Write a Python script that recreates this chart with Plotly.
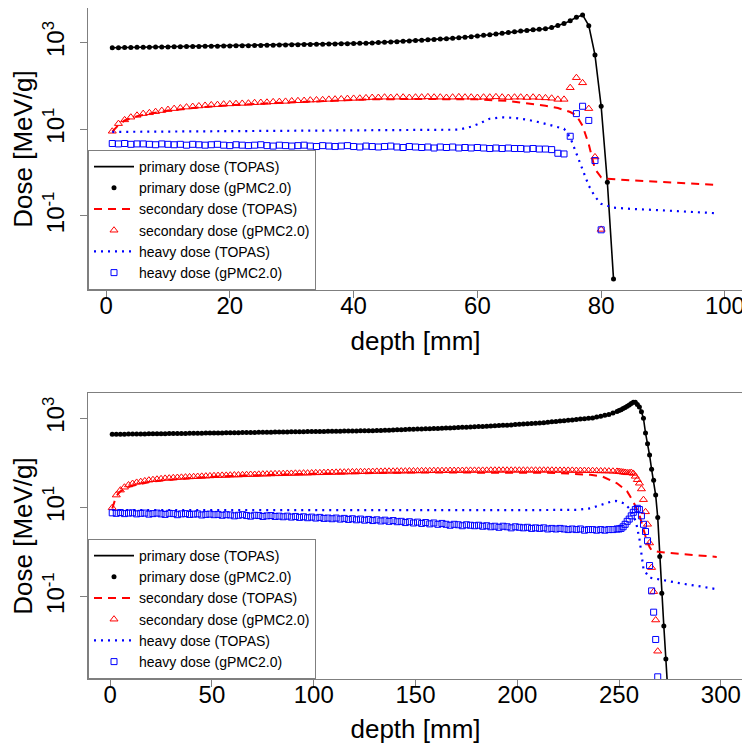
import plotly.graph_objects as go

# ---------------- top panel (0-100 mm) ----------------
top_primary_depth = list(range(1, 83))
top_primary = [
    760, 764, 768, 772, 776, 780, 784, 788, 792, 796,
    800, 804, 808, 812, 816, 820, 824, 828, 832, 836,
    840, 845, 850, 855, 860, 865, 870, 875, 880, 886,
    892, 898, 904, 910, 917, 924, 931, 938, 946, 954,
    962, 972, 985, 1000, 1016, 1033, 1051, 1070, 1090, 1111,
    1133, 1156, 1180, 1205, 1232, 1262, 1295, 1330, 1368, 1410,
    1470, 1520, 1580, 1650, 1720, 1790, 1850, 1910, 1970, 2020,
    2080, 2220, 2470, 2740, 3200, 3850, 4350, 2460, 520, 34,
    0.6, 0.0035,
]

top_secondary_topas_depth = [1, 2, 3, 5, 7, 10, 15, 20, 30, 43, 50, 55, 60, 65, 68, 71, 73,
                             75, 76, 77, 78, 79, 80, 81, 85, 90, 95, 99]
top_secondary_topas = [8.8, 12.5, 16, 20, 23, 27, 32, 36, 42, 49, 50, 50, 49, 45, 40.5, 35, 31,
                       25, 21, 12, 4.5, 1.2, 0.78, 0.72, 0.66, 0.6, 0.56, 0.52]

top_secondary_gpmc_depth = list(range(1, 81))
top_secondary_gpmc = [
    9.0, 13.5, 16.5, 19, 21, 23, 24, 25.5, 27, 28.5,
    30, 31, 32.5, 33.5, 34.5, 35.5, 36.5, 37, 38, 38.5,
    39, 39.5, 40, 41, 41.5, 42, 43, 43.5, 44, 45,
    45.5, 46, 47, 47.5, 48, 49, 49.5, 50, 51, 51.5,
    52, 53, 54, 54, 55, 54, 55, 55, 54, 55,
    55, 56, 55, 55, 54, 55, 56, 55, 55, 54,
    55, 55, 56, 55, 54, 55, 55, 54, 55, 54,
    53, 52, 49, 49, 91, 155, 118, 30, 2.3, 0.049,
]

top_heavy_topas_depth = [1, 10, 20, 30, 43, 50, 57, 59, 60, 62, 64, 66, 68, 70, 72, 74,
                         75, 76, 77, 78, 79, 80, 82, 85, 89, 95, 99]
top_heavy_topas = [8.7, 8.9, 9.1, 9.3, 9.5, 9.7, 9.8, 11.5, 13, 17.5, 18.9, 18.3, 16.7, 14.5, 12.3, 10.3,
                   6.5, 2.8, 1.1, 0.5, 0.28, 0.19, 0.156, 0.145, 0.137, 0.125, 0.115]

top_heavy_gpmc_depth = list(range(1, 81))
top_heavy_gpmc = [
    4.7, 4.6, 4.7, 4.5, 4.6, 4.6, 4.5, 4.4, 4.6, 4.5,
    4.4, 4.5, 4.3, 4.5, 4.4, 4.3, 4.4, 4.5, 4.3, 4.2,
    4.4, 4.3, 4.2, 4.3, 4.4, 4.2, 4.1, 4.3, 4.2, 4.1,
    4.2, 4.3, 4.1, 4.0, 4.2, 4.1, 4.0, 4.1, 4.2, 4.0,
    3.9, 4.1, 4.0, 3.9, 4.0, 4.1, 3.9, 3.8, 4.0, 3.9,
    3.8, 3.9, 3.7, 3.9, 3.8, 3.9, 3.7, 3.8, 3.7, 3.8,
    3.7, 3.6, 3.7, 3.6, 3.7, 3.6, 3.6, 3.5, 3.6, 3.5,
    3.5, 3.4, 2.8, 2.7, 6.9, 23, 34, 16, 1.9, 0.048,
]

# ---------------- bottom panel (0-300 mm) ----------------
bot_flat_depth = list(range(1, 250, 2))
bot_primary_depth = bot_flat_depth + list(range(250, 275))
bot_primary = [
    438, 439, 440, 441, 442, 444, 445, 446, 447, 448,
    450, 451, 452, 453, 454, 456, 457, 458, 459, 461,
    462, 463, 464, 466, 467, 468, 470, 471, 472, 474,
    476, 477, 479, 480, 482, 483, 485, 486, 488, 489,
    491, 492, 494, 495, 497, 498, 500, 501, 503, 504,
    506, 508, 509, 511, 512, 514, 515, 517, 518, 520,
    521, 523, 524, 526, 527, 530, 534, 539, 543, 548,
    552, 557, 561, 566, 570, 574, 578, 582, 586, 590,
    594, 597, 603, 609, 615, 621, 627, 633, 639, 645,
    651, 658, 666, 673, 681, 688, 696, 703, 712, 723,
    734, 745, 756, 767, 778, 789, 800, 817, 834, 851,
    868, 885, 903, 922, 945, 962, 980, 998, 1020, 1065,
    1115, 1165, 1220, 1320, 1430,
    1490, 1550, 1650, 1750, 1870, 2000, 2150, 2300, 2280, 2050,
    1800, 1400, 1000, 470, 270, 150, 72, 41, 19, 6,
    0.8, 0.12, 0.022, 0.004, 0.0007,
]

bot_secondary_topas_depth = [1, 2, 3, 5, 10, 20, 40, 60, 100, 150, 200, 215, 225, 236, 242, 249,
                             254, 257, 260, 262, 263.5, 265, 266, 270, 280, 290, 298]
bot_secondary_topas = [9.5, 14, 18, 23, 30, 38, 46, 51, 57, 61, 62, 60, 58, 54, 49, 35,
                       23, 13.5, 6.8, 3.4, 1.9, 1.3, 1.1, 1.0, 0.92, 0.84, 0.78]

bot_secondary_gpmc_depth = bot_flat_depth + list(range(250, 270))
bot_secondary_gpmc = [
    9.9, 19, 24.5, 28.5, 32, 34.5, 36.5, 38, 39.5, 41,
    42, 43, 44, 45, 45.5, 46.5, 47, 47.5, 48, 48.5,
    49, 49.5, 50, 50.5, 51, 51.5, 52, 52.5, 52.5, 53,
    53.5, 53.5, 54, 54.5, 55, 55, 55.5, 56, 56, 56.5,
    57, 57, 57.5, 58, 58, 58.5, 58.5, 59, 59, 59.5,
    60, 60, 60.5, 61, 61, 61.5, 62, 62, 62.5, 63,
    63, 63.5, 63.5, 64, 64, 64.5, 64.5, 65, 65, 65,
    65.5, 65.5, 65.5, 66, 66, 66, 66.5, 66.5, 66.5, 67,
    67, 67, 67, 67.5, 67.5, 67.5, 67.5, 68, 68, 68,
    68, 68, 68, 68.5, 68.5, 68.5, 68.5, 68.5, 68.5, 68.5,
    68.5, 68.5, 68.5, 68.5, 68.5, 68.5, 68.5, 68.5, 68.5, 68,
    68, 68, 68, 68, 67.5, 67.5, 67.5, 67, 67, 66.5,
    66, 66, 65.5, 65, 64.5,
    64, 63, 62, 61, 60, 60, 61, 58, 50, 42,
    35, 26, 15, 8, 4.2, 1.6, 0.45, 0.13, 0.03, 0.006,
]

bot_heavy_topas_depth = [1, 50, 100, 150, 200, 230, 236, 241, 246, 248.5, 252.5, 255.8, 258.3,
                         260, 261, 262, 264.7, 270, 280, 290, 297]
bot_heavy_topas = [8.8, 8.7, 8.6, 8.6, 8.7, 8.9, 9.6, 11.4, 13.5, 14, 12.4, 8.8, 4.8,
                   2.0, 0.9, 0.42, 0.27, 0.24, 0.2, 0.17, 0.15]

bot_heavy_gpmc_depth = bot_flat_depth + list(range(250, 270))
bot_heavy_gpmc = [
    7.6, 7.4, 7.7, 7.3, 7.5, 7.6, 7.2, 7.4, 7.5, 7.1,
    7.3, 7.5, 7.2, 7.0, 7.4, 7.3, 6.9, 7.2, 7.3, 7.0,
    7.1, 7.2, 6.8, 7.0, 7.1, 6.9, 7.0, 6.7, 6.9, 6.8,
    6.5, 6.7, 6.9, 6.6, 6.4, 6.7, 6.6, 6.3, 6.5, 6.6,
    6.3, 6.4, 6.2, 6.4, 6.1, 6.3, 6.0, 6.2, 5.9, 6.1,
    5.8, 6.0, 5.7, 5.8, 5.6, 5.8, 5.5, 5.7, 5.4, 5.6,
    5.3, 5.5, 5.2, 5.4, 5.1, 5.3, 5.0, 5.2, 4.9, 5.1,
    4.8, 4.9, 4.6, 4.8, 4.5, 4.7, 4.4, 4.6, 4.3, 4.5,
    4.2, 4.4, 4.2, 4.0, 4.2, 4.1, 3.9, 4.1, 4.0, 3.9,
    4.0, 3.8, 3.9, 3.7, 3.8, 3.6, 3.8, 3.7, 3.5, 3.7,
    3.6, 3.5, 3.6, 3.4, 3.5, 3.4, 3.5, 3.3, 3.4, 3.3,
    3.4, 3.3, 3.2, 3.3, 3.2, 3.3, 3.1, 3.2, 3.2, 3.1,
    3.2, 3.1, 3.2, 3.2, 3.3,
    3.3, 3.4, 3.7, 4.2, 4.9, 5.5, 6.5, 7.8, 9.0, 9.6,
    9.0, 6.5, 4.2, 2.9, 1.8, 0.5, 0.135, 0.045, 0.011, 0.0016,
]

names = ["primary dose (TOPAS)", "primary dose (gPMC2.0)",
         "secondary dose (TOPAS)", "secondary dose (gPMC2.0)",
         "heavy dose (TOPAS)", "heavy dose (gPMC2.0)"]

FONT = "Liberation Sans, Arial, sans-serif"
GREY = "#7f7f7f"

panels = [
    dict(xa="x", ya="y", leg="legend",
         series=[(top_primary_depth, top_primary), (top_primary_depth, top_primary),
                 (top_secondary_topas_depth, top_secondary_topas),
                 (top_secondary_gpmc_depth, top_secondary_gpmc),
                 (top_heavy_topas_depth, top_heavy_topas),
                 (top_heavy_gpmc_depth, top_heavy_gpmc)]),
    dict(xa="x2", ya="y2", leg="legend2",
         series=[(bot_primary_depth, bot_primary), (bot_primary_depth, bot_primary),
                 (bot_secondary_topas_depth, bot_secondary_topas),
                 (bot_secondary_gpmc_depth, bot_secondary_gpmc),
                 (bot_heavy_topas_depth, bot_heavy_topas),
                 (bot_heavy_gpmc_depth, bot_heavy_gpmc)]),
]

styles = [
    dict(mode="lines", line=dict(color="black", width=1.6)),
    dict(mode="markers", marker=dict(symbol="circle", color="black", size=5)),
    dict(mode="lines", line=dict(color="#ff0000", width=2, dash="8px,6px")),
    dict(mode="markers", marker=dict(symbol="triangle-up-open", color="#ff0000", size=7,
                                     line=dict(width=1, color="#ff0000"))),
    dict(mode="lines", line=dict(color="#0000ff", width=2.2, dash="2px,5px")),
    dict(mode="markers", marker=dict(symbol="square-open", color="#0000ff", size=6,
                                     line=dict(width=1, color="#0000ff"))),
]

fig = go.Figure()
for p in panels:
    for name, (xs, ys), st in zip(names, p["series"], styles):
        fig.add_trace(go.Scatter(x=xs, y=ys, name=name, xaxis=p["xa"], yaxis=p["ya"],
                                 legend=p["leg"], **st))

axis_common = dict(showline=True, linecolor=GREY, linewidth=1, mirror=True,
                   ticks="outside", ticklen=7, tickcolor=GREY, showgrid=False, zeroline=False,
                   tickfont=dict(family=FONT, size=24, color="black"))
xtick = dict(ticklabelstandoff=-13)
ytick = dict(type="log", tickvals=[0.1, 10, 1000],
             ticktext=["10<sup>-1</sup>", "10<sup>1</sup>", "10<sup>3</sup>"], tickangle=-90,
             ticklabelstandoff=6)
xtitle = dict(text="depth [mm]", font=dict(family=FONT, size=26, color="black"), standoff=13)
ytitle = dict(text="Dose [MeV/g]", font=dict(family=FONT, size=26, color="black"), standoff=0)

# the page body keeps an 8px margin, so the figure is 742x739 drawn at (8, 8)
top_dom = [0.5797, 1]
bot_dom = [0, 0.4262]
legend_common = dict(x=0, xanchor="left", yanchor="bottom", bgcolor="white",
                     bordercolor=GREY, borderwidth=1, tracegroupgap=0, itemwidth=40,
                     font=dict(family=FONT, size=14, color="black"))

fig.update_layout(
    width=742, height=739,
    margin=dict(l=80, r=7, t=0, b=68),
    paper_bgcolor="white", plot_bgcolor="white",
    showlegend=True,
    xaxis=dict(axis_common, **xtick, anchor="y", range=[-2.92, 102.92],
               tickvals=[0, 20, 40, 60, 80, 100], title=xtitle),
    yaxis=dict(axis_common, **ytick, anchor="x", domain=top_dom, range=[-2.708, 3.798],
               title=ytitle),
    xaxis2=dict(axis_common, **xtick, anchor="y2", range=[-10.9, 310.9],
                tickvals=[0, 50, 100, 150, 200, 250, 300], title=xtitle),
    yaxis2=dict(axis_common, **ytick, anchor="x2", domain=bot_dom, range=[-2.845, 3.567],
                title=ytitle),
    legend=dict(legend_common, y=top_dom[0]),
    legend2=dict(legend_common, y=bot_dom[0]),
)

fig.write_html("out.html")
